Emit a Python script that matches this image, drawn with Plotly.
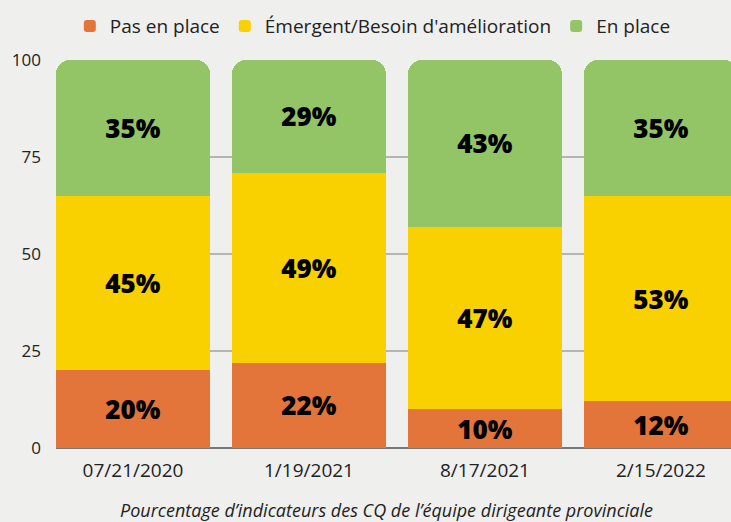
import plotly.graph_objects as go

categories = ["07/21/2020", "1/19/2021", "8/17/2021", "2/15/2022"]
series_names = ["Pas en place", "Émergent/Besoin d'amélioration", "En place"]
pas_en_place = [20, 22, 10, 12]
emergent = [45, 49, 47, 53]
en_place = [35, 29, 43, 35]
colors = ["#E3743A", "#F9D000", "#93C466"]
y_ticks = [0, 25, 50, 75, 100]
x_title = "Pourcentage d’indicateurs des CQ de l’équipe dirigeante provinciale"

FONT = "Open Sans"
fig = go.Figure()
for name, vals, col in zip(series_names, [pas_en_place, emergent, en_place], colors):
    fig.add_trace(go.Bar(
        x=list(range(len(categories))), y=vals, name=name,
        marker=dict(color=col, line=dict(width=0)),
        text=[f"{v}%" for v in vals], texttemplate="%{text}",
        textposition="inside", insidetextanchor="middle",
        textfont=dict(family=FONT, size=26, color="black", weight=800),
        constraintext="none", hoverinfo="skip",
    ))

fig.update_layout(
    width=731, height=522,
    barmode="stack", bargap=0.125, barcornerradius=14,
    paper_bgcolor="#EFEFED", plot_bgcolor="#EFEFED",
    margin=dict(l=56, r=0, t=60, b=74),
    font=dict(family=FONT, color="#222222", size=17),
    legend=dict(orientation="h", xref="container", yref="container",
                x=0.51, xanchor="center", y=0.95, yanchor="middle",
                font=dict(size=19, color="#222222"), itemwidth=30,
                traceorder="normal"),
    showlegend=True,
    xaxis=dict(tickmode="array", tickvals=list(range(len(categories))),
               ticktext=categories, range=[-0.4375, 3.398],
               showgrid=False, zeroline=False, showline=False,
               ticks="", tickfont=dict(size=19, color="#222222"),
               ticklabelstandoff=9),
    yaxis=dict(range=[0, 100], tickvals=y_ticks, showgrid=True,
               gridcolor="#B5B5B5", gridwidth=1.5, zeroline=True,
               zerolinecolor="#777777", zerolinewidth=1.5, showline=False,
               ticks="", tickfont=dict(size=17, color="#222222"),
               ticklabelstandoff=14),
    annotations=[dict(text=x_title, xref="paper", yref="paper",
                      x=0.489, y=-0.16, xanchor="center", yanchor="middle",
                      showarrow=False,
                      font=dict(family=FONT, size=18, color="#222222", style="italic"))],
)
fig.write_html("out.html", config={"displayModeBar": False},
               post_script="document.body.style.margin='0';")
